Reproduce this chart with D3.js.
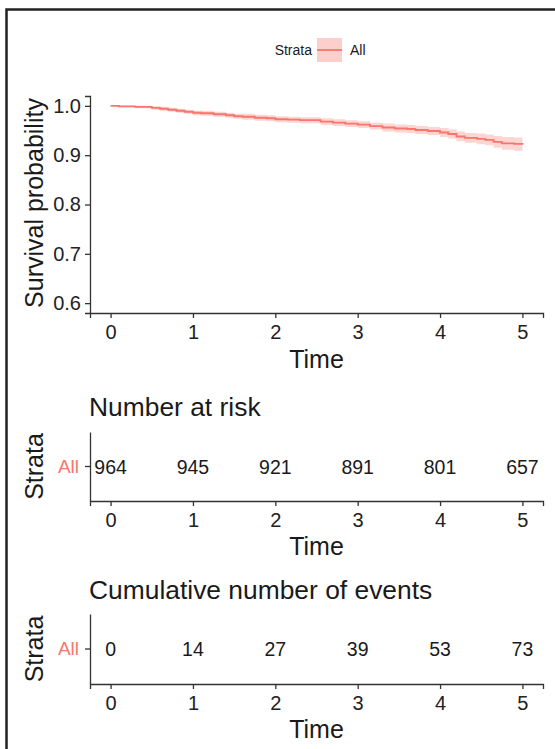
<!DOCTYPE html>
<html><head><meta charset="utf-8">
<script src="https://cdn.jsdelivr.net/npm/d3@7"></script>
<style>body{margin:0;background:#fff}svg{display:block}text{font-family:"Liberation Sans",Arial,sans-serif}</style>
</head><body>
<svg id="c" width="555" height="749"></svg>
<script>
const times = [0, 0.1, 0.3, 0.5, 0.6, 0.7, 0.8, 0.9, 1.0, 1.1, 1.25, 1.4, 1.5, 1.6, 1.75, 1.9, 2.0, 2.15, 2.3, 2.45, 2.55, 2.7, 2.85, 3.0, 3.15, 3.3, 3.45, 3.6, 3.7, 3.85, 4.0, 4.1, 4.2, 4.3, 4.45, 4.55, 4.65, 4.75, 4.9, 5.0];
const surv  = [1.0, 0.999, 0.998, 0.996, 0.994, 0.992, 0.990, 0.988, 0.986, 0.985, 0.983, 0.981, 0.979, 0.978, 0.976, 0.975, 0.973, 0.972, 0.971, 0.971, 0.968, 0.966, 0.964, 0.962, 0.959, 0.956, 0.954, 0.953, 0.951, 0.949, 0.946, 0.943, 0.938, 0.935, 0.933, 0.931, 0.927, 0.924, 0.923, 0.921];
const lower = [1.0, 0.997, 0.995, 0.992, 0.990, 0.988, 0.986, 0.984, 0.981, 0.980, 0.978, 0.976, 0.974, 0.972, 0.970, 0.969, 0.967, 0.966, 0.965, 0.965, 0.961, 0.959, 0.957, 0.955, 0.952, 0.948, 0.946, 0.945, 0.943, 0.941, 0.937, 0.934, 0.928, 0.925, 0.922, 0.920, 0.915, 0.911, 0.909, 0.905];
const upper = [1.0, 1.0, 1.0, 0.999, 0.998, 0.996, 0.994, 0.992, 0.990, 0.990, 0.988, 0.986, 0.984, 0.984, 0.982, 0.981, 0.979, 0.978, 0.977, 0.977, 0.975, 0.973, 0.971, 0.969, 0.966, 0.964, 0.962, 0.961, 0.959, 0.957, 0.955, 0.952, 0.948, 0.945, 0.944, 0.942, 0.939, 0.937, 0.936, 0.935];
const xTicks = [0, 1, 2, 3, 4, 5];
const yTicks = [0.6, 0.7, 0.8, 0.9, 1.0];
const atRisk = [964, 945, 921, 891, 801, 657];
const cumEvents = [0, 14, 27, 39, 53, 73];
const strata = "All";

const col = "#F8766D";
const ink = "#1a1a1a";
const svg = d3.select("#c");

// frame (top and left edges visible)
svg.append("path").attr("d","M6.5,749 V9.5 H555").attr("fill","none").attr("stroke","#222").attr("stroke-width",2.5);

const x = d3.scaleLinear().domain([-0.25, 5.25]).range([90, 543]);

// legend
const lg = svg.append("g");
lg.append("text").attr("x",312).attr("y",55).attr("text-anchor","end").attr("font-size",14).attr("fill",ink).text("Strata");
lg.append("rect").attr("x",317).attr("y",38).attr("width",25).attr("height",24).attr("fill",col).attr("fill-opacity",0.35);
lg.append("line").attr("x1",317).attr("x2",342).attr("y1",50).attr("y2",50).attr("stroke",col).attr("stroke-width",1.8);
lg.append("text").attr("x",350).attr("y",55).attr("font-size",14).attr("fill",ink).text(strata);

function styleAxis(g, fs){
  g.attr("font-size",null).attr("font-family",null);
  g.select(".domain").attr("stroke","#333").attr("stroke-width",1.3);
  g.selectAll(".tick line").attr("stroke","#333").attr("stroke-width",1.3);
  g.selectAll(".tick text").attr("fill","#222").style("font-size",fs+"px");
}

// main plot
const y = d3.scaleLinear().domain([0.58, 1.02]).range([313, 96]);
const main = svg.append("g");
const area = d3.area().curve(d3.curveStepAfter)
  .x((d,i)=>x(times[i])).y0((d,i)=>y(lower[i])).y1((d,i)=>y(upper[i]));
main.append("path").datum(times).attr("d",area).attr("fill",col).attr("fill-opacity",0.3);
const line = d3.line().curve(d3.curveStepAfter).x((d,i)=>x(times[i])).y((d,i)=>y(surv[i]));
main.append("path").datum(times).attr("d",line).attr("fill","none").attr("stroke",col).attr("stroke-width",1.9);

const yAx = main.append("g").attr("transform","translate(90,0)")
  .call(d3.axisLeft(y).tickValues(yTicks).tickFormat(d3.format(".1f")).tickSizeOuter(0).tickSize(5).tickPadding(4));
styleAxis(yAx, 20);
const xAx = main.append("g").attr("transform","translate(0,313)")
  .call(d3.axisBottom(x).tickValues(xTicks).tickFormat(d3.format("d")).tickSizeOuter(0).tickSize(5).tickPadding(7));
styleAxis(xAx, 20);
main.append("text").attr("x",x(2.5)).attr("y",368).attr("text-anchor","middle").attr("font-size",25).attr("fill",ink).text("Time");
main.append("text").attr("transform","translate(43,203) rotate(-90)").attr("text-anchor","middle").attr("font-size",25).attr("fill",ink).text("Survival probability");

// risk tables
function table(top, bottom, title, titleY, vals){
  const g = svg.append("g");
  g.append("text").attr("x",89).attr("y",titleY).attr("font-size",26.4).attr("fill",ink).text(title);
  const yb = d3.scaleBand().domain([strata]).range([bottom, top]);
  const ya = g.append("g").attr("transform","translate(90,0)")
    .call(d3.axisLeft(yb).tickSize(5).tickPadding(6).tickSizeOuter(0));
  styleAxis(ya, 19);
  ya.selectAll(".tick text").attr("fill",col);
  const xa = g.append("g").attr("transform",`translate(0,${bottom})`)
    .call(d3.axisBottom(x).tickValues(xTicks).tickFormat(d3.format("d")).tickSizeOuter(0).tickSize(5).tickPadding(7));
  styleAxis(xa, 20);
  g.selectAll(".val").data(vals).join("text").attr("class","val")
    .attr("x",(d,i)=>x(xTicks[i])).attr("y",yb(strata)+yb.bandwidth()/2).attr("dy","0.36em")
    .attr("text-anchor","middle").attr("font-size",19.5).attr("fill",ink).text(d=>d);
  g.append("text").attr("x",x(2.5)).attr("y",bottom+54).attr("text-anchor","middle").attr("font-size",25).attr("fill",ink).text("Time");
  g.append("text").attr("transform",`translate(43,${(top+bottom)/2}) rotate(-90)`).attr("text-anchor","middle").attr("font-size",25).attr("fill",ink).text("Strata");
}
table(432, 501, "Number at risk", 416, atRisk);
table(614, 684, "Cumulative number of events", 599, cumEvents);
</script>
</body></html>
